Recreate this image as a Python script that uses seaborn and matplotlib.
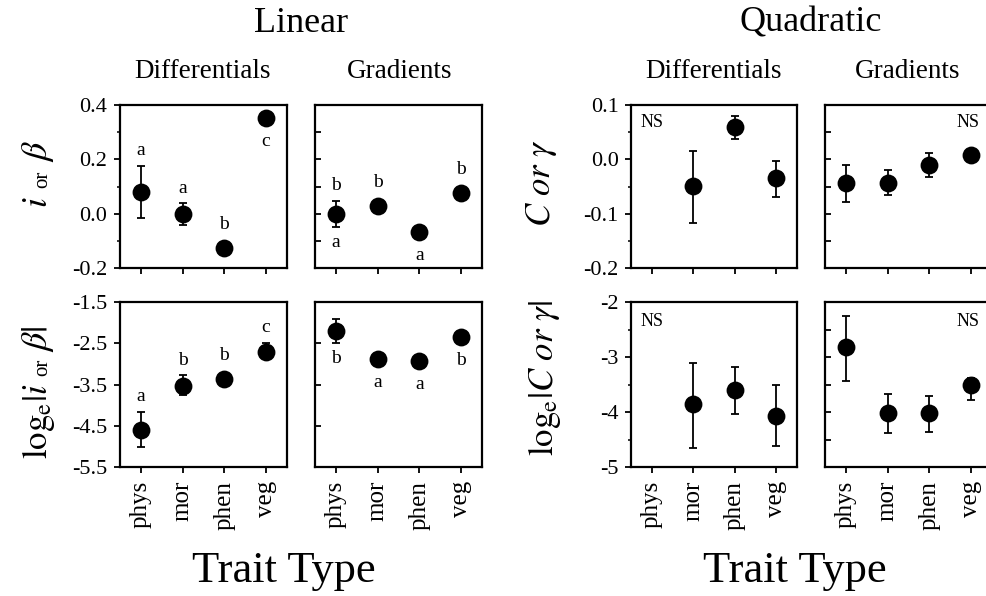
import numpy as np
import pandas as pd
import matplotlib
matplotlib.use('Agg')
import matplotlib.pyplot as plt
from matplotlib.ticker import FormatStrFormatter
import seaborn as sns

# --- data ---
categories = ['phys', 'mor', 'phen', 'veg']

# linear differentials / gradients (i or beta)
lin_diff = [0.080, 0.000, -0.125, 0.352]
lin_diff_lo = [-0.016, -0.043, -0.135, 0.345]
lin_diff_hi = [0.176, 0.039, -0.115, 0.360]
lin_diff_above = ['a', 'a', 'b', '']
lin_diff_below = ['', '', '', 'c']

lin_grad = [0.000, 0.030, -0.067, 0.076]
lin_grad_lo = [-0.050, 0.022, -0.075, 0.068]
lin_grad_hi = [0.048, 0.038, -0.060, 0.083]
lin_grad_above = ['b', 'b', '', 'b']
lin_grad_below = ['a', '', 'a', '']

# log_e |i or beta|
log_lin_diff = [-4.60, -3.54, -3.37, -2.70]
log_lin_diff_lo = [-5.01, -3.76, -3.47, -2.88]
log_lin_diff_hi = [-4.16, -3.27, -3.28, -2.49]
log_lin_diff_above = ['a', 'b', 'b', 'c']
log_lin_diff_below = ['', '', '', '']

log_lin_grad = [-2.20, -2.87, -2.93, -2.36]
log_lin_grad_lo = [-2.50, -2.95, -3.00, -2.44]
log_lin_grad_hi = [-1.91, -2.79, -2.86, -2.28]
log_lin_grad_above = ['', '', '', '']
log_lin_grad_below = ['b', 'a', 'a', 'b']

# quadratic (C or gamma)
quad_diff = [np.nan, -0.049, 0.059, -0.035]
quad_diff_lo = [np.nan, -0.118, 0.037, -0.070]
quad_diff_hi = [np.nan, 0.016, 0.079, -0.003]

quad_grad = [-0.044, -0.043, -0.010, 0.008]
quad_grad_lo = [-0.079, -0.065, -0.032, -0.003]
quad_grad_hi = [-0.010, -0.020, 0.011, 0.018]

log_quad_diff = [np.nan, -3.86, -3.60, -4.07]
log_quad_diff_lo = [np.nan, -4.66, -4.03, -4.62]
log_quad_diff_hi = [np.nan, -3.10, -3.18, -3.51]

log_quad_grad = [-2.82, -4.02, -4.01, -3.51]
log_quad_grad_lo = [-3.44, -4.39, -4.36, -3.78]
log_quad_grad_hi = [-2.25, -3.67, -3.70, -3.39]

# --- style ---
sns.set_theme(style='ticks')
plt.rcParams['font.family'] = ['Liberation Serif', 'DejaVu Serif']
plt.rcParams['mathtext.fontset'] = 'stix'
plt.rcParams['axes.unicode_minus'] = False
for key in ('text.color', 'axes.labelcolor', 'xtick.color', 'ytick.color', 'axes.edgecolor'):
    plt.rcParams[key] = 'black'

W, H = 986, 596
fig = plt.figure(figsize=(W / 100, H / 100), dpi=100)


def px_axes(left, top, right, bottom):
    return fig.add_axes([left / W, 1 - bottom / H, (right - left) / W, (bottom - top) / H])


def draw_panel(ax, vals, lo, hi, ylim, major, minor, inward, fmt, bottom_row):
    x = np.arange(len(categories))
    df = pd.DataFrame({'x': x, 'y': vals, 'lo': lo, 'hi': hi}).dropna()
    ax.errorbar(df['x'], df['y'], yerr=[df['y'] - df['lo'], df['hi'] - df['y']],
                fmt='none', ecolor='black', elinewidth=1.3, capsize=3, capthick=1.3, zorder=2)
    sns.scatterplot(data=df, x='x', y='y', ax=ax, color='black', s=165,
                    linewidth=0, zorder=3, legend=False)
    ax.set_xlim(-0.5, 3.5)
    ax.set_ylim(ylim)
    ax.set_xlabel('')
    ax.set_ylabel('')
    ax.set_xticks(x)
    if bottom_row:
        ax.set_xticklabels(categories, rotation=90, fontsize=18)
    else:
        ax.set_xticklabels([])
    ax.set_yticks(major)
    ax.set_yticks(minor, minor=True)
    if inward:
        ax.tick_params(axis='y', which='both', direction='in', length=4, width=1.3, labelleft=False)
    else:
        ax.yaxis.set_major_formatter(FormatStrFormatter(fmt))
        ax.tick_params(axis='y', which='major', direction='out', length=4, width=1.3,
                       labelsize=16, pad=5)
        ax.tick_params(axis='y', which='minor', direction='out', length=2.5, width=1.1)
    ax.tick_params(axis='x', which='major', direction='out', length=4, width=1.3, pad=6)
    for sp in ax.spines.values():
        sp.set_visible(True)
        sp.set_color('black')
        sp.set_linewidth(1.6)
    ax.grid(False)


def add_letters(ax, vals, lo, hi, above, below):
    for i in range(len(categories)):
        for letters, sign, end in ((above, 1, hi), (below, -1, lo)):
            s = letters[i]
            if not s:
                continue
            y0 = ax.transData.transform((i, vals[i]))[1]
            ye = ax.transData.transform((i, end[i]))[1]
            d = max(abs(ye - y0), 8.5)
            ax.annotate(s, xy=(i, vals[i]), xytext=(0, sign * (d + 15)),
                        textcoords='offset pixels', ha='center', va='center', fontsize=14)


def add_ns(ax, xf, yf):
    ax.text(xf, yf, 'NS', transform=ax.transAxes, ha='center', va='center', fontsize=13)


cols = [(120, 287), (315, 482), (631, 797), (825, 992)]
rows = [(105, 268), (302, 467)]

panels = [
    (0, 0, lin_diff, lin_diff_lo, lin_diff_hi, (-0.2, 0.4), [-0.2, 0.0, 0.2, 0.4], [-0.1, 0.1, 0.3], False, '%.1f'),
    (0, 1, lin_grad, lin_grad_lo, lin_grad_hi, (-0.2, 0.4), np.arange(-0.2, 0.41, 0.1), [], True, '%.1f'),
    (0, 2, quad_diff, quad_diff_lo, quad_diff_hi, (-0.2, 0.1), [-0.2, -0.1, 0.0, 0.1], [-0.15, -0.05, 0.05], False, '%.1f'),
    (0, 3, quad_grad, quad_grad_lo, quad_grad_hi, (-0.2, 0.1), np.arange(-0.2, 0.11, 0.05), [], True, '%.1f'),
    (1, 0, log_lin_diff, log_lin_diff_lo, log_lin_diff_hi, (-5.5, -1.5), [-5.5, -4.5, -3.5, -2.5, -1.5], [], False, '%.1f'),
    (1, 1, log_lin_grad, log_lin_grad_lo, log_lin_grad_hi, (-5.5, -1.5), [-5.5, -4.5, -3.5, -2.5, -1.5], [], True, '%.1f'),
    (1, 2, log_quad_diff, log_quad_diff_lo, log_quad_diff_hi, (-5, -2), [-5, -4, -3, -2], [-4.5, -3.5, -2.5], False, '%d'),
    (1, 3, log_quad_grad, log_quad_grad_lo, log_quad_grad_hi, (-5, -2), np.arange(-5, -1.9, 0.5), [], True, '%d'),
]

axes = {}
for r, c, vals, lo, hi, ylim, major, minor, inward, fmt in panels:
    ax = px_axes(cols[c][0], rows[r][0], cols[c][1], rows[r][1])
    draw_panel(ax, vals, lo, hi, ylim, major, minor, inward, fmt, r == 1)
    axes[(r, c)] = ax

add_letters(axes[(0, 0)], lin_diff, lin_diff_lo, lin_diff_hi, lin_diff_above, lin_diff_below)
add_letters(axes[(0, 1)], lin_grad, lin_grad_lo, lin_grad_hi, lin_grad_above, lin_grad_below)
add_letters(axes[(1, 0)], log_lin_diff, log_lin_diff_lo, log_lin_diff_hi, log_lin_diff_above, log_lin_diff_below)
add_letters(axes[(1, 1)], log_lin_grad, log_lin_grad_lo, log_lin_grad_hi, log_lin_grad_above, log_lin_grad_below)

add_ns(axes[(0, 2)], 0.127, 0.89)
add_ns(axes[(0, 3)], 0.856, 0.89)
add_ns(axes[(1, 2)], 0.127, 0.88)
add_ns(axes[(1, 3)], 0.856, 0.88)

# titles
fig.text(301 / W, 1 - 23 / H, 'Linear', ha='center', va='center', fontsize=26)
fig.text(811 / W, 1 - 23 / H, 'Quadratic', ha='center', va='center', fontsize=26)
for xc, s in ((203, 'Differentials'), (400, 'Gradients'), (714, 'Differentials'), (908, 'Gradients')):
    fig.text(xc / W, 1 - 72 / H, s, ha='center', va='center', fontsize=19.5)
for xc in (284, 795):
    fig.text(xc / W, 1 - 571 / H, 'Trait Type', ha='center', va='center', fontsize=32)


# y labels built from pieces of different sizes
def stacked_ylabel(xb, yc, pieces, gap=8):
    rend = fig.canvas.get_renderer()
    placed, y = [], 0.0
    for s, size in pieces:
        t = fig.text(xb / W, 0, s, rotation=90, rotation_mode='anchor',
                     ha='left', va='baseline', fontsize=size)
        placed.append((t, y))
        y += t.get_window_extent(rend).height + gap
    y -= gap
    start = (H - yc) - y / 2
    for t, off in placed:
        t.set_y((start + off) / H)


stacked_ylabel(47, 174, [(r'$i$', 26), ('or', 15), (r'$\beta$', 26)], gap=9)
stacked_ylabel(47, 392, [(r'$\mathrm{log}_\mathrm{e}|i$', 25), ('or', 15), (r'$\beta|$', 26)], gap=7)
fig.text(550 / W, 1 - 183 / H, r'$C\ or\ \gamma$', rotation=90, rotation_mode='anchor',
         ha='center', va='baseline', fontsize=25)
fig.text(553 / W, 1 - 378 / H, r'$\mathrm{log}_\mathrm{e}|C\ or\ \gamma|$', rotation=90,
         rotation_mode='anchor', ha='center', va='baseline', fontsize=25)

fig.savefig('out.png', dpi=100, facecolor='white')
